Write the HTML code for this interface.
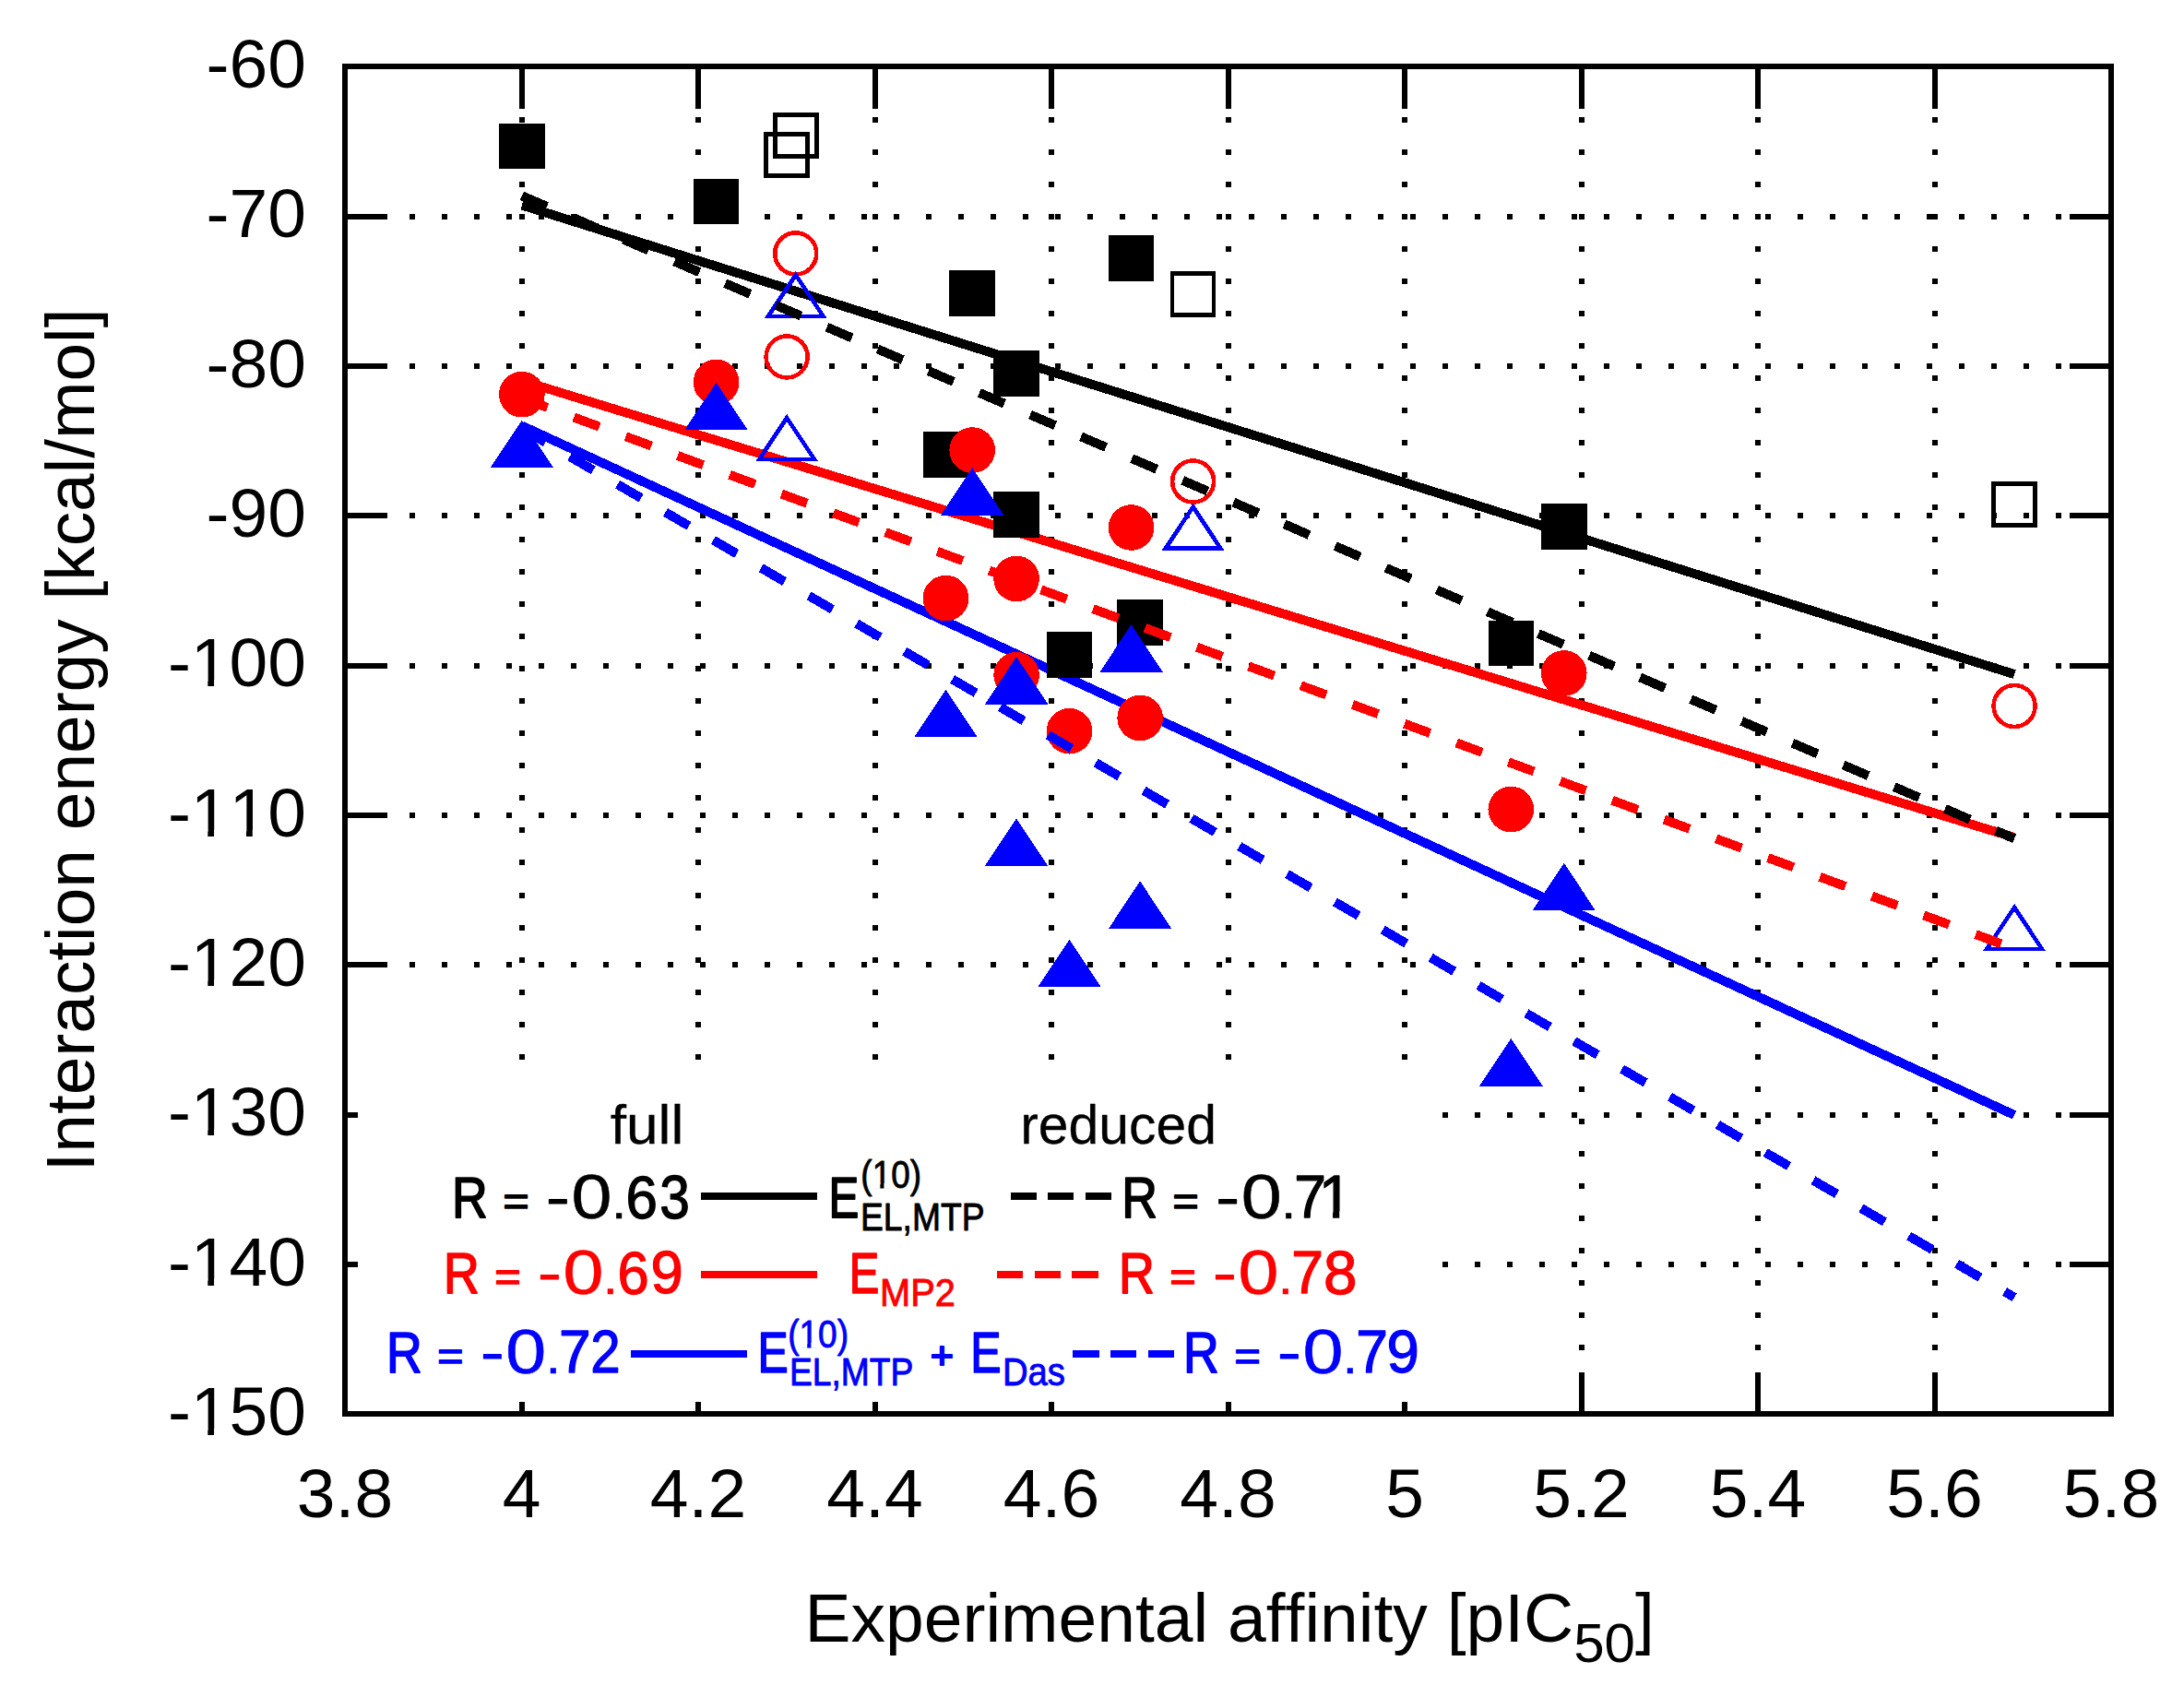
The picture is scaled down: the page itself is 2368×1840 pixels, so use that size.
<!DOCTYPE html>
<html lang="en"><head><meta charset="utf-8"><title>Interaction energy vs experimental affinity</title>
<style>html,body{margin:0;padding:0;background:#fff}svg{display:block}text{font-family:"Liberation Sans",sans-serif;font-kerning:none}</style>
</head><body>
<svg width="2368" height="1840" viewBox="0 0 2368 1840">
<rect width="2368" height="1840" fill="#fff"/>
<g stroke="#000" stroke-width="6" stroke-dasharray="6 29" fill="none" shape-rendering="crispEdges">
<path d="M374 235H2289"/>
<path d="M374 397H2289"/>
<path d="M374 559H2289"/>
<path d="M374 722H2289"/>
<path d="M374 884H2289"/>
<path d="M374 1046H2289"/>
<path d="M374 1209H2289"/>
<path d="M374 1371H2289"/>
<path stroke-dasharray="6 29.03" d="M566 1534V72"/>
<path stroke-dasharray="6 29.03" d="M757 1534V72"/>
<path stroke-dasharray="6 29.03" d="M949 1534V72"/>
<path stroke-dasharray="6 29.03" d="M1140 1534V72"/>
<path stroke-dasharray="6 29.03" d="M1332 1534V72"/>
<path stroke-dasharray="6 29.03" d="M1523 1534V72"/>
<path stroke-dasharray="6 29.03" d="M1715 1534V72"/>
<path stroke-dasharray="6 29.03" d="M1906 1534V72"/>
<path stroke-dasharray="6 29.03" d="M2098 1534V72"/>
</g>
<g stroke="#000" stroke-width="6" fill="none" shape-rendering="crispEdges">
<path d="M374 235h45.5M2289 235h-45.5"/>
<path d="M374 397h45.5M2289 397h-45.5"/>
<path d="M374 559h45.5M2289 559h-45.5"/>
<path d="M374 722h45.5M2289 722h-45.5"/>
<path d="M374 884h45.5M2289 884h-45.5"/>
<path d="M374 1046h45.5M2289 1046h-45.5"/>
<path d="M374 1209h45.5M2289 1209h-45.5"/>
<path d="M374 1371h45.5M2289 1371h-45.5"/>
<path d="M566 1533v-45.5M566 72v45.5"/>
<path d="M757 1533v-45.5M757 72v45.5"/>
<path d="M949 1533v-45.5M949 72v45.5"/>
<path d="M1140 1533v-45.5M1140 72v45.5"/>
<path d="M1332 1533v-45.5M1332 72v45.5"/>
<path d="M1523 1533v-45.5M1523 72v45.5"/>
<path d="M1715 1533v-45.5M1715 72v45.5"/>
<path d="M1906 1533v-45.5M1906 72v45.5"/>
<path d="M2098 1533v-45.5M2098 72v45.5"/>
</g>
<g stroke-width="10" fill="none" shape-rendering="crispEdges">
<path stroke="#000000" d="M565.9 222.48L2184.08 731.07"/>
<path stroke="#ff0000" d="M565.9 412.9L2184.08 908.02"/>
<path stroke="#0000ff" d="M565.9 461.6L2184.08 1208.98"/>
</g>
<g stroke-width="4.6" stroke-linejoin="miter" stroke-miterlimit="10" shape-rendering="crispEdges">
<rect x="543.4" y="135.86" width="45" height="45" stroke="#000000" fill="#000000"/>
<rect x="754.05" y="195.92" width="45" height="45" stroke="#000000" fill="#000000"/>
<rect x="1031.72" y="295.44" width="45" height="45" stroke="#000000" fill="#000000"/>
<rect x="1204.08" y="257.29" width="45" height="45" stroke="#000000" fill="#000000"/>
<rect x="1079.6" y="382.45" width="45" height="45" stroke="#000000" fill="#000000"/>
<rect x="1003" y="470.43" width="45" height="45" stroke="#000000" fill="#000000"/>
<rect x="1079.6" y="535.36" width="45" height="45" stroke="#000000" fill="#000000"/>
<rect x="1213.65" y="652.24" width="45" height="45" stroke="#000000" fill="#000000"/>
<rect x="1137.05" y="687.47" width="45" height="45" stroke="#000000" fill="#000000"/>
<rect x="1673.25" y="548.35" width="45" height="45" stroke="#000000" fill="#000000"/>
<rect x="1615.8" y="674.97" width="45" height="45" stroke="#000000" fill="#000000"/>
<circle cx="565.9" cy="427.67" r="22.5" stroke="#ff0000" fill="#ff0000"/>
<circle cx="776.55" cy="414.52" r="22.5" stroke="#ff0000" fill="#ff0000"/>
<circle cx="1054.22" cy="488.06" r="22.5" stroke="#ff0000" fill="#ff0000"/>
<circle cx="1226.58" cy="571.99" r="22.5" stroke="#ff0000" fill="#ff0000"/>
<circle cx="1102.1" cy="627.5" r="22.5" stroke="#ff0000" fill="#ff0000"/>
<circle cx="1025.5" cy="648.61" r="22.5" stroke="#ff0000" fill="#ff0000"/>
<circle cx="1102.1" cy="731.89" r="22.5" stroke="#ff0000" fill="#ff0000"/>
<circle cx="1159.55" cy="792.76" r="22.5" stroke="#ff0000" fill="#ff0000"/>
<circle cx="1236.15" cy="778.47" r="22.5" stroke="#ff0000" fill="#ff0000"/>
<circle cx="1695.75" cy="729.94" r="22.5" stroke="#ff0000" fill="#ff0000"/>
<circle cx="1638.3" cy="877.5" r="22.5" stroke="#ff0000" fill="#ff0000"/>
<path d="M565.9 459.76L535.98 504.76H595.83Z" stroke="#0000ff" fill="#0000ff"/>
<path d="M776.55 419.01L746.62 464.01H806.47Z" stroke="#0000ff" fill="#0000ff"/>
<path d="M1054.22 511.22L1024.3 556.22H1084.15Z" stroke="#0000ff" fill="#0000ff"/>
<path d="M1226.58 681.51L1196.65 726.51H1256.5Z" stroke="#0000ff" fill="#0000ff"/>
<path d="M1102.1 716.25L1072.17 761.25H1132.02Z" stroke="#0000ff" fill="#0000ff"/>
<path d="M1025.5 751.96L995.58 796.96H1055.43Z" stroke="#0000ff" fill="#0000ff"/>
<path d="M1102.1 891.57L1072.17 936.57H1132.02Z" stroke="#0000ff" fill="#0000ff"/>
<path d="M1236.15 959.58L1206.23 1004.58H1266.08Z" stroke="#0000ff" fill="#0000ff"/>
<path d="M1159.55 1022.89L1129.63 1067.89H1189.48Z" stroke="#0000ff" fill="#0000ff"/>
<path d="M1695.75 939.94L1665.83 984.94H1725.67Z" stroke="#0000ff" fill="#0000ff"/>
<path d="M1638.3 1130.2L1608.38 1175.2H1668.23Z" stroke="#0000ff" fill="#0000ff"/>
<rect x="840.22" y="124.5" width="45" height="45" stroke="#000000" fill="none"/>
<rect x="830.65" y="145.44" width="45" height="45" stroke="#000000" fill="none"/>
<rect x="1271.1" y="296.41" width="45" height="45" stroke="#000000" fill="none"/>
<rect x="2161.58" y="524.49" width="45" height="45" stroke="#000000" fill="none"/>
<circle cx="862.72" cy="274.92" r="22.5" stroke="#ff0000" fill="none"/>
<circle cx="853.15" cy="386.93" r="22.5" stroke="#ff0000" fill="none"/>
<circle cx="1293.6" cy="521.99" r="22.5" stroke="#ff0000" fill="none"/>
<circle cx="2184.08" cy="765.49" r="22.5" stroke="#ff0000" fill="none"/>
<path d="M862.72 298.07L832.8 343.07H892.65Z" stroke="#0000ff" fill="none"/>
<path d="M853.15 453.1L823.23 498.1H883.07Z" stroke="#0000ff" fill="none"/>
<path d="M1293.6 549.69L1263.67 594.69H1323.52Z" stroke="#0000ff" fill="none"/>
<path d="M2184.08 983.93L2154.15 1028.93H2214Z" stroke="#0000ff" fill="none"/>
</g>
<g stroke-width="10" fill="none" stroke-dasharray="29.5 30.5" shape-rendering="crispEdges">
<path stroke="#000000" d="M565.9 212.26L2184.08 909.32"/>
<path stroke="#ff0000" d="M565.9 431.73L2184.08 1028.63"/>
<path stroke="#0000ff" d="M565.9 464.85L2184.08 1406.7"/>
</g>
<rect x="388" y="1162" width="1162" height="358" fill="#fff"/>
<rect x="374" y="72" width="1915" height="1461" fill="none" stroke="#000" stroke-width="6" shape-rendering="crispEdges"/>
<g fill="none" stroke-width="7.8" shape-rendering="crispEdges">
<path stroke="#000000" d="M760 1297.3H886"/>
<path stroke="#ff0000" d="M760 1382H886"/>
<path stroke="#0000ff" d="M683.6 1468H809.8"/>
<path stroke="#000000" d="M1096 1297.3H1124M1136 1297.3H1164M1177 1297.3H1205"/>
<path stroke="#ff0000" d="M1081 1382H1109M1122 1382H1150M1162 1382H1191"/>
<path stroke="#0000ff" d="M1163 1468H1192M1204 1468H1232M1245 1468H1273"/>
</g>
<g font-size="75" text-anchor="end" fill="#000">
<text x="332" y="95">-60</text>
<text x="332" y="257.33">-70</text>
<text x="332" y="419.67">-80</text>
<text x="332" y="582">-90</text>
<text x="332" y="744.33">-100</text>
<text x="332" y="906.67">-110</text>
<text x="332" y="1069">-120</text>
<text x="332" y="1231.33">-130</text>
<text x="332" y="1393.67">-140</text>
<text x="332" y="1556">-150</text>
</g>
<rect x="210.62" y="737.43" width="14.66" height="8.40" fill="#fff"/><rect x="232.07" y="737.43" width="14.93" height="8.40" fill="#fff"/>
<rect x="210.62" y="899.77" width="14.66" height="8.40" fill="#fff"/><rect x="232.07" y="899.77" width="14.93" height="8.40" fill="#fff"/>
<rect x="252.33" y="899.77" width="14.66" height="8.40" fill="#fff"/><rect x="273.78" y="899.77" width="14.93" height="8.40" fill="#fff"/>
<rect x="210.62" y="1062.10" width="14.66" height="8.40" fill="#fff"/><rect x="232.07" y="1062.10" width="14.93" height="8.40" fill="#fff"/>
<rect x="210.62" y="1224.43" width="14.66" height="8.40" fill="#fff"/><rect x="232.07" y="1224.43" width="14.93" height="8.40" fill="#fff"/>
<rect x="210.62" y="1386.77" width="14.66" height="8.40" fill="#fff"/><rect x="232.07" y="1386.77" width="14.93" height="8.40" fill="#fff"/>
<rect x="210.62" y="1549.10" width="14.66" height="8.40" fill="#fff"/><rect x="232.07" y="1549.10" width="14.93" height="8.40" fill="#fff"/>
<g font-size="75" text-anchor="middle" fill="#000">
<text x="374" y="1644.5">3.8</text>
<text x="565.5" y="1644.5">4</text>
<text x="757" y="1644.5">4.2</text>
<text x="948.5" y="1644.5">4.4</text>
<text x="1140" y="1644.5">4.6</text>
<text x="1331.5" y="1644.5">4.8</text>
<text x="1523" y="1644.5">5</text>
<text x="1714.5" y="1644.5">5.2</text>
<text x="1906" y="1644.5">5.4</text>
<text x="2097.5" y="1644.5">5.6</text>
<text x="2289" y="1644.5">5.8</text>
</g>
<text x="872.5" y="1779.9" font-size="75" fill="#000">Experimental affinity [pIC<tspan font-size="60" dy="22.5">50</tspan><tspan dy="-22.5">]</tspan></text>
<text transform="translate(102.2 1270.5) rotate(-90)" font-size="74.85" fill="#000">Interaction energy [kcal/mol]</text>
<text fill="#000000" stroke="#000000" stroke-linejoin="round"><tspan x="661.81" y="1240.10" font-size="59.00" textLength="79.42" lengthAdjust="spacingAndGlyphs" stroke-width="0.30">full</tspan></text>
<text fill="#000000" stroke="#000000" stroke-linejoin="round"><tspan x="1106.16" y="1239.90" font-size="59.00" textLength="212.85" lengthAdjust="spacingAndGlyphs" stroke-width="0.30">reduced</tspan></text>
<text fill="#000000" stroke="#000000" stroke-linejoin="round"><tspan x="490.11" y="1319.93" font-size="63.83" textLength="38.77" lengthAdjust="spacingAndGlyphs" stroke-width="1.75">R</tspan> <tspan x="545.51" y="1317.65" font-size="44.65" textLength="28.08" lengthAdjust="spacingAndGlyphs" stroke-width="1.72">=</tspan> <tspan x="592.39" y="1318.30" font-size="57.44" textLength="25.29" lengthAdjust="spacingAndGlyphs" stroke-width="1.14">-</tspan><tspan x="619.59" y="1321.42" font-size="67.81" textLength="43.95" lengthAdjust="spacingAndGlyphs" stroke-width="0.52">0</tspan><tspan x="662.72" y="1320.70" font-size="51.53" textLength="16.72" lengthAdjust="spacingAndGlyphs" stroke-width="0.39">.</tspan><tspan x="678.40" y="1320.96" font-size="64.95" textLength="34.46" lengthAdjust="spacingAndGlyphs" stroke-width="1.29">6</tspan><tspan x="715.33" y="1320.93" font-size="66.74" textLength="32.62" lengthAdjust="spacingAndGlyphs" stroke-width="1.32">3</tspan></text>
<text fill="#ff0000" stroke="#ff0000" stroke-linejoin="round"><tspan x="481.01" y="1401.83" font-size="63.83" textLength="38.77" lengthAdjust="spacingAndGlyphs" stroke-width="1.75">R</tspan> <tspan x="536.41" y="1399.55" font-size="44.65" textLength="28.08" lengthAdjust="spacingAndGlyphs" stroke-width="1.72">=</tspan> <tspan x="583.29" y="1400.20" font-size="57.44" textLength="25.29" lengthAdjust="spacingAndGlyphs" stroke-width="1.14">-</tspan><tspan x="610.49" y="1403.32" font-size="67.81" textLength="43.95" lengthAdjust="spacingAndGlyphs" stroke-width="0.52">0</tspan><tspan x="653.62" y="1402.60" font-size="51.53" textLength="16.72" lengthAdjust="spacingAndGlyphs" stroke-width="0.39">.</tspan><tspan x="669.62" y="1402.86" font-size="64.95" textLength="34.23" lengthAdjust="spacingAndGlyphs" stroke-width="1.29">6</tspan><tspan x="705.39" y="1401.56" font-size="64.95" textLength="35.16" lengthAdjust="spacingAndGlyphs" stroke-width="1.29">9</tspan></text>
<text fill="#0000ff" stroke="#0000ff" stroke-linejoin="round"><tspan x="418.91" y="1487.83" font-size="63.83" textLength="38.77" lengthAdjust="spacingAndGlyphs" stroke-width="1.75">R</tspan> <tspan x="474.31" y="1485.55" font-size="44.65" textLength="28.08" lengthAdjust="spacingAndGlyphs" stroke-width="1.72">=</tspan> <tspan x="521.19" y="1486.20" font-size="57.44" textLength="25.29" lengthAdjust="spacingAndGlyphs" stroke-width="1.14">-</tspan><tspan x="548.39" y="1489.32" font-size="67.81" textLength="43.95" lengthAdjust="spacingAndGlyphs" stroke-width="0.52">0</tspan><tspan x="591.52" y="1488.60" font-size="51.53" textLength="16.72" lengthAdjust="spacingAndGlyphs" stroke-width="0.39">.</tspan><tspan x="606.08" y="1488.06" font-size="64.51" textLength="34.67" lengthAdjust="spacingAndGlyphs" stroke-width="1.28">7</tspan><tspan x="640.25" y="1488.05" font-size="65.64" textLength="32.43" lengthAdjust="spacingAndGlyphs" stroke-width="1.30">2</tspan></text>
<text fill="#000000" stroke="#000000" stroke-linejoin="round"><tspan x="1216.21" y="1319.93" font-size="63.83" textLength="38.77" lengthAdjust="spacingAndGlyphs" stroke-width="1.75">R</tspan> <tspan x="1271.61" y="1317.65" font-size="44.65" textLength="28.08" lengthAdjust="spacingAndGlyphs" stroke-width="1.72">=</tspan> <tspan x="1318.49" y="1318.30" font-size="57.44" textLength="25.29" lengthAdjust="spacingAndGlyphs" stroke-width="1.14">-</tspan><tspan x="1345.69" y="1321.42" font-size="67.81" textLength="43.95" lengthAdjust="spacingAndGlyphs" stroke-width="0.52">0</tspan><tspan x="1388.82" y="1320.70" font-size="51.53" textLength="16.72" lengthAdjust="spacingAndGlyphs" stroke-width="0.39">.</tspan><tspan x="1403.18" y="1320.16" font-size="64.51" textLength="34.67" lengthAdjust="spacingAndGlyphs" stroke-width="1.28">7</tspan><tspan x="1429.67" y="1320.16" font-size="64.51" textLength="36.25" lengthAdjust="spacingAndGlyphs" stroke-width="1.28">1</tspan></text><rect x="1432.28" y="1313.59" width="12.74" height="8.51" fill="#fff"/><rect x="1452.22" y="1313.59" width="12.97" height="8.51" fill="#fff"/>
<text fill="#ff0000" stroke="#ff0000" stroke-linejoin="round"><tspan x="1213.01" y="1401.83" font-size="63.83" textLength="38.77" lengthAdjust="spacingAndGlyphs" stroke-width="1.75">R</tspan> <tspan x="1268.41" y="1399.55" font-size="44.65" textLength="28.08" lengthAdjust="spacingAndGlyphs" stroke-width="1.72">=</tspan> <tspan x="1315.29" y="1400.20" font-size="57.44" textLength="25.29" lengthAdjust="spacingAndGlyphs" stroke-width="1.14">-</tspan><tspan x="1342.49" y="1403.32" font-size="67.81" textLength="43.95" lengthAdjust="spacingAndGlyphs" stroke-width="0.52">0</tspan><tspan x="1385.62" y="1402.60" font-size="51.53" textLength="16.72" lengthAdjust="spacingAndGlyphs" stroke-width="0.39">.</tspan><tspan x="1400.18" y="1402.06" font-size="64.51" textLength="34.67" lengthAdjust="spacingAndGlyphs" stroke-width="1.28">7</tspan><tspan x="1434.95" y="1402.83" font-size="66.74" textLength="36.43" lengthAdjust="spacingAndGlyphs" stroke-width="1.32">8</tspan></text>
<text fill="#0000ff" stroke="#0000ff" stroke-linejoin="round"><tspan x="1283.01" y="1487.83" font-size="63.83" textLength="38.77" lengthAdjust="spacingAndGlyphs" stroke-width="1.75">R</tspan> <tspan x="1338.41" y="1485.55" font-size="44.65" textLength="28.08" lengthAdjust="spacingAndGlyphs" stroke-width="1.72">=</tspan> <tspan x="1385.29" y="1486.20" font-size="57.44" textLength="25.29" lengthAdjust="spacingAndGlyphs" stroke-width="1.14">-</tspan><tspan x="1412.49" y="1489.32" font-size="67.81" textLength="43.95" lengthAdjust="spacingAndGlyphs" stroke-width="0.52">0</tspan><tspan x="1455.62" y="1488.60" font-size="51.53" textLength="16.72" lengthAdjust="spacingAndGlyphs" stroke-width="0.39">.</tspan><tspan x="1470.18" y="1488.06" font-size="64.51" textLength="34.67" lengthAdjust="spacingAndGlyphs" stroke-width="1.28">7</tspan><tspan x="1503.48" y="1487.56" font-size="64.95" textLength="35.27" lengthAdjust="spacingAndGlyphs" stroke-width="1.29">9</tspan></text>
<text fill="#000000" stroke="#000000" stroke-linejoin="round"><tspan x="898.62" y="1320.23" font-size="63.69" textLength="32.84" lengthAdjust="spacingAndGlyphs" stroke-width="1.75">E</tspan><tspan x="933.35" y="1287.60" font-size="42.50" textLength="65.66" lengthAdjust="spacingAndGlyphs" stroke-width="0.90">(10)</tspan><tspan x="932.97" y="1333.70" font-size="42.50" textLength="134.57" lengthAdjust="spacingAndGlyphs" stroke-width="0.90">EL,MTP</tspan></text><rect x="947.10" y="1283.24" width="7.22" height="5.66" fill="#fff"/><rect x="958.44" y="1283.24" width="7.35" height="5.66" fill="#fff"/>
<text fill="#ff0000" stroke="#ff0000" stroke-linejoin="round"><tspan x="920.75" y="1402.03" font-size="63.41" textLength="32.49" lengthAdjust="spacingAndGlyphs" stroke-width="1.74">E</tspan><tspan x="953.99" y="1415.70" font-size="42.50" textLength="81.84" lengthAdjust="spacingAndGlyphs" stroke-width="0.90">MP2</tspan></text>
<text fill="#0000ff" stroke="#0000ff" stroke-linejoin="round"><tspan x="821.38" y="1487.73" font-size="63.27" textLength="33.19" lengthAdjust="spacingAndGlyphs" stroke-width="1.74">E</tspan><tspan x="854.14" y="1460.50" font-size="42.50" textLength="65.98" lengthAdjust="spacingAndGlyphs" stroke-width="0.90">(10)</tspan><tspan x="855.97" y="1501.90" font-size="42.50" textLength="134.46" lengthAdjust="spacingAndGlyphs" stroke-width="0.90">EL,MTP</tspan> <tspan x="1008.82" y="1484.37" font-size="41.11" textLength="25.22" lengthAdjust="spacingAndGlyphs" stroke-width="1.97">+</tspan> <tspan x="1052.37" y="1487.73" font-size="63.27" textLength="33.31" lengthAdjust="spacingAndGlyphs" stroke-width="1.74">E</tspan><tspan x="1086.90" y="1501.50" font-size="42.50" textLength="67.97" lengthAdjust="spacingAndGlyphs" stroke-width="0.90">Das</tspan></text><rect x="867.95" y="1456.14" width="7.25" height="5.66" fill="#fff"/><rect x="879.35" y="1456.14" width="7.38" height="5.66" fill="#fff"/>
</svg></body></html>
